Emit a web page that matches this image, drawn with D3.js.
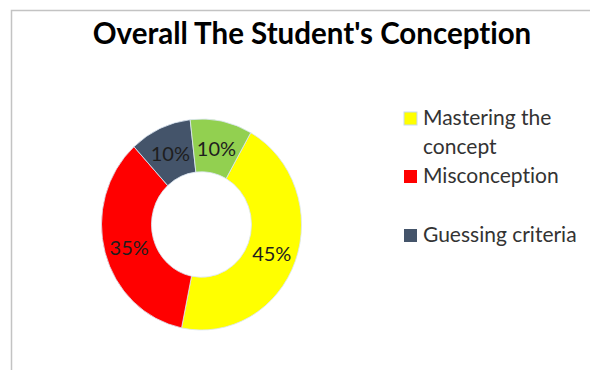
<!DOCTYPE html>
<html>
<head>
<meta charset="utf-8">
<script src="https://cdn.jsdelivr.net/npm/d3@7"></script>
<style>
  html, body { margin: 0; padding: 0; background: #ffffff; }
  svg { display: block; }
  text { font-family: Lato, "Open Sans", sans-serif; font-variant-ligatures: none; font-feature-settings: "liga" 0, "dlig" 0; }
</style>
</head>
<body>
<svg id="chart" width="590" height="370"></svg>
<script>
// ---- data ----
const title = "Overall The Student's Conception";
const categories = ["Mastering the concept", "Misconception", "Guessing criteria", null];
const values = [45, 35, 10, 10];
const colors = ["#ffff00", "#ff0000", "#44546a", "#92d050"];
const legendLines = [["Mastering the", "concept"], ["Misconception"], ["Guessing criteria"]];

const svg = d3.select("#chart");

// frame
svg.append("path")
  .attr("d", "M11.5,370 L11.5,10.5 L590,10.5")
  .attr("fill", "none")
  .attr("stroke", "#c3c3c3")
  .attr("stroke-width", 1.5);

// title
svg.append("text")
  .attr("x", 312).attr("y", 44)
  .attr("text-anchor", "middle")
  .attr("font-size", 29.5)
  .attr("font-weight", "bold")
  .attr("fill", "#000")
  .text(title);

// donut
const cx = 201.5, cy = 224.5, rOuter = 100, rInner = 50, yStretch = 1.055;
const startA = 29.5 * Math.PI / 180;
const pie = d3.pie().sort(null).value(d => d)
  .startAngle(startA).endAngle(startA + 2 * Math.PI);
const arcs = pie(values);
const arc = d3.arc().innerRadius(rInner).outerRadius(rOuter);

const g = svg.append("g")
  .attr("transform", `translate(${cx},${cy}) scale(1,${yStretch})`);
g.selectAll("path.slice")
  .data(arcs)
  .enter().append("path")
  .attr("class", "slice")
  .attr("d", arc)
  .attr("fill", (d, i) => colors[i])
  .attr("stroke", "#dbe5f1")
  .attr("stroke-width", 0.8);

// labels
svg.selectAll("text.pct")
  .data(arcs)
  .enter().append("text")
  .attr("class", "pct")
  .attr("x", d => cx + arc.centroid(d)[0])
  .attr("y", d => cy + arc.centroid(d)[1] * yStretch + 2)
  .attr("dy", "0.35em")
  .attr("text-anchor", "middle")
  .attr("font-size", 20)
  .attr("fill", "#1e1e1e")
  .text(d => d.data + "%");

// legend
const legendY = [125, 183, 242];
const lg = svg.append("g");
legendLines.forEach((lines, i) => {
  const y = legendY[i];
  lg.append("rect")
    .attr("x", 404).attr("y", y - 13)
    .attr("width", 13).attr("height", 13)
    .attr("fill", colors[i])
    .attr("stroke", i === 0 ? "#c6d9f1" : "none")
    .attr("stroke-width", 1);
  lines.forEach((ln, j) => {
    lg.append("text")
      .attr("x", 423).attr("y", y + j * 28.5)
      .attr("font-size", 21)
      .attr("fill", "#333")
      .text(ln);
  });
});
</script>
</body>
</html>
